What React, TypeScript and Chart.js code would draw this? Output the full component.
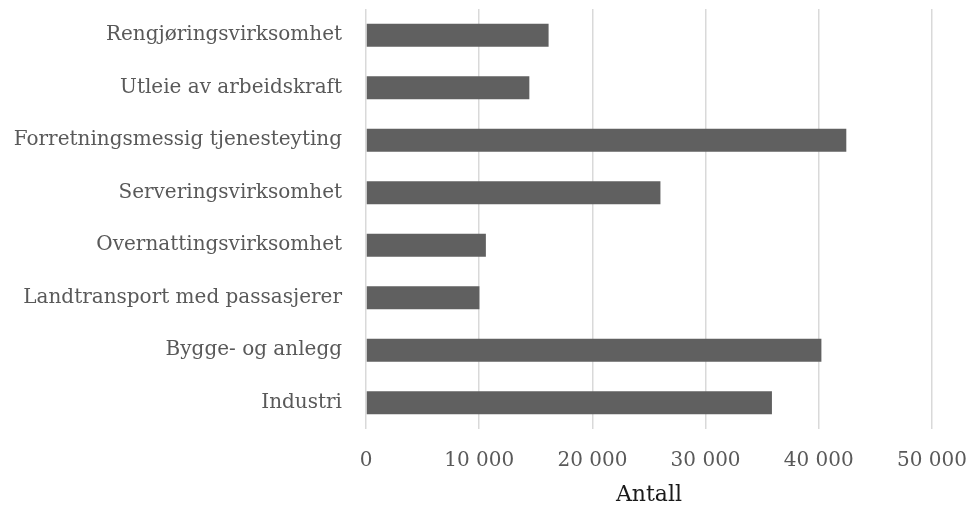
import React, { useEffect, useRef } from "react";
import { Chart, registerables } from "chart.js";

Chart.register(...registerables);

const categories = [
  "Rengjøringsvirksomhet",
  "Utleie av arbeidskraft",
  "Forretningsmessig tjenesteyting",
  "Serveringsvirksomhet",
  "Overnattingsvirksomhet",
  "Landtransport med passasjerer",
  "Bygge- og anlegg",
  "Industri",
];
const values = [16130, 14430, 42430, 26010, 10590, 10020, 40230, 35860];
const xTicks = [0, 10000, 20000, 30000, 40000, 50000];
const xTitle = "Antall";

const FONT = "'DejaVu Serif', serif";

export default function App() {
  const ref = useRef<HTMLCanvasElement>(null);
  useEffect(() => {
    if (!ref.current) return;
    const chart = new Chart(ref.current, {
      type: "bar",
      data: {
        labels: categories,
        datasets: [
          {
            data: values,
            backgroundColor: "#606060",
            borderWidth: 0,
            barPercentage: 0.435,
            categoryPercentage: 1,
          },
        ],
      },
      options: {
        indexAxis: "y",
        animation: false,
        responsive: false,
        maintainAspectRatio: false,
        layout: { padding: { top: 9, right: 39, left: 0, bottom: 0 } },
        plugins: { legend: { display: false }, tooltip: { enabled: false } },
        scales: {
          x: {
            min: 0,
            max: 50000,
            afterBuildTicks: (scale: any) => {
              scale.ticks = xTicks.map((v) => ({ value: v }));
            },
            afterFit: (scale: any) => {
              scale.height = 79;
              scale.paddingRight = 0;
              scale.paddingLeft = 0;
            },
            ticks: {
              color: "#595959",
              font: { family: FONT, size: 20 },
              padding: 20,
              maxRotation: 0,
              callback: (v: any) =>
                Number(v).toString().replace(/\B(?=(\d{3})+(?!\d))/g, " "),
            },
            grid: { color: "#d9d9d9", lineWidth: 1.5, drawTicks: false },
            border: { display: false },
            title: {
              display: true,
              text: xTitle,
              color: "#1a1a1a",
              font: { family: FONT, size: 22 },
              padding: { top: 4, bottom: 0 },
            },
          },
          y: {
            afterFit: (scale: any) => {
              scale.width = 366;
              scale.paddingTop = 0;
              scale.paddingBottom = 0;
            },
            ticks: {
              color: "#595959",
              font: { family: FONT, size: 20 },
              padding: 16,
            },
            grid: { display: false },
            border: { display: false },
          },
        },
      },
    });
    return () => chart.destroy();
  }, []);
  return (
    <div style={{ position: "fixed", left: 0, top: 0, width: 971, height: 508, background: "#fff" }}>
      <canvas ref={ref} width={971} height={508} style={{ width: 971, height: 508 }} />
    </div>
  );
}
